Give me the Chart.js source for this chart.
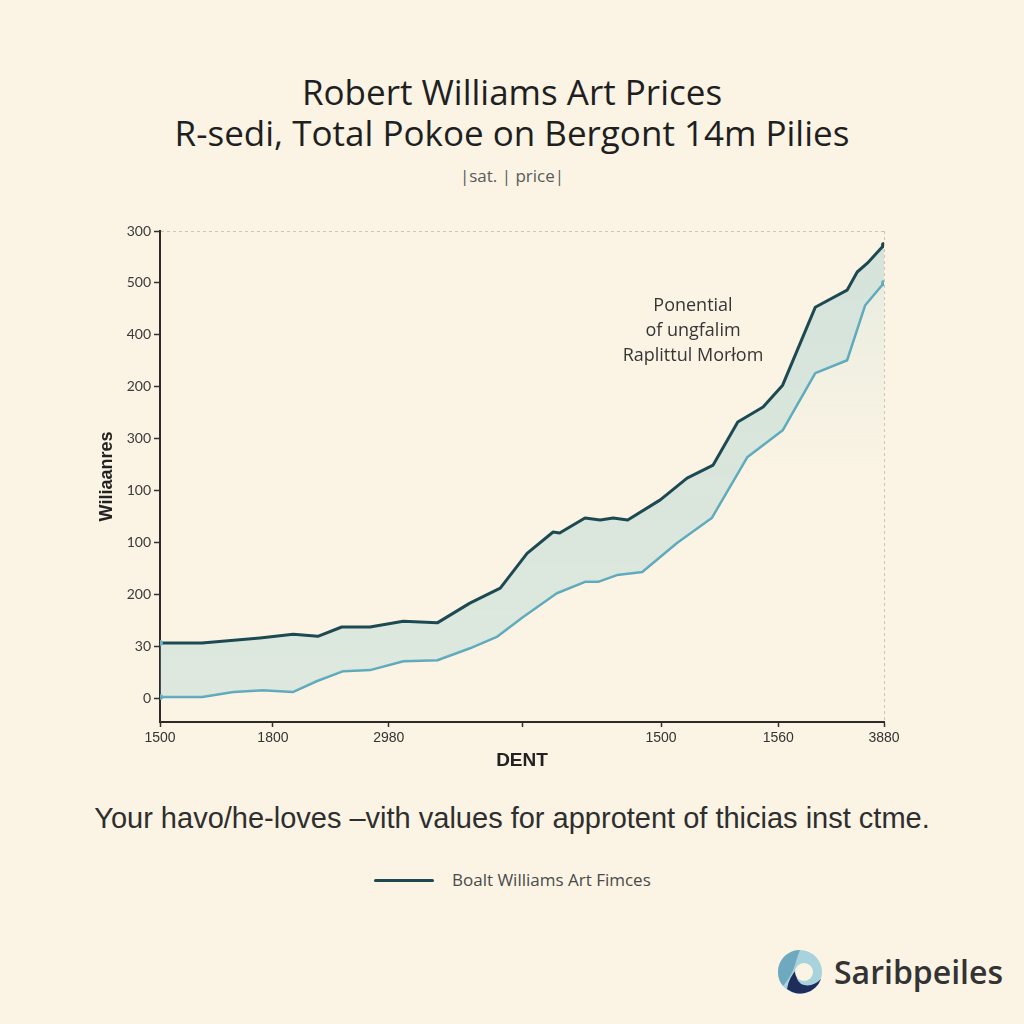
<!DOCTYPE html>
<html>
<head>
<meta charset="utf-8">
<script src="https://cdn.jsdelivr.net/npm/chart.js@4.4.0/dist/chart.umd.min.js"></script>
<style>
  body { margin: 0; background: #fbf4e4; }
  #page { position: relative; width: 1024px; height: 1024px; overflow: hidden; font-family: "Open Sans", sans-serif; color: #262626; }
  .title { position: absolute; left: 0; top: 71px; width: 1024px; text-align: center; font-size: 35px; line-height: 41px; color: #1f1f1f; }
  .subtitle { position: absolute; left: 0; top: 165px; width: 1024px; text-align: center; font-size: 17px; line-height: 22px; color: #5a5a5a; }
  #chartBox { position: absolute; left: 0; top: 200px; width: 1024px; height: 580px; }
  .note { position: absolute; left: 583px; top: 292px; width: 220px; text-align: center; font-size: 18px; line-height: 25px; color: #363636; }
  .caption { position: absolute; left: 0; top: 800px; width: 1024px; text-align: center; font-family: "Liberation Sans", sans-serif; font-size: 29px; line-height: 36px; color: #2e2e2e; }
  .legend-line { position: absolute; left: 374px; top: 879px; width: 60px; height: 3px; background: #1d4a52; border-radius: 2px; }
  .legend-text { position: absolute; left: 452px; top: 868px; font-size: 17px; line-height: 24px; color: #4a4a4a; }
  .logo { position: absolute; left: 777px; top: 949px; width: 46px; height: 46px; }
  .brand { position: absolute; left: 834px; top: 950px; font-size: 32px; line-height: 44px; font-weight: 600; color: #333; }
</style>
</head>
<body>
<div id="page">
  <div class="title">Robert Williams Art Prices<br>R-sedi, Total Pokoe on Bergont 14m Pilies</div>
  <div class="subtitle">|sat. | price|</div>
  <div id="chartBox"><canvas id="lineChart" width="1024" height="580"></canvas></div>
  <div class="note">Ponential<br>of ungfalim<br>Raplittul Morłom</div>
  <div class="caption">Your havo/he-loves –vith values for approtent of thicias inst ctme.</div>
  <div class="legend-line"></div>
  <div class="legend-text">Boalt Williams Art Fimces</div>
  <svg class="logo" viewBox="0 0 46 46">
    <circle cx="23" cy="23" r="22" fill="#a9d3dc"/>
    <path d="M23 1 A22 22 0 0 0 6 37 Q14 28 18 16 Q20 8 23 1 Z" fill="#6fa9c0"/>
    <path d="M10 40 A22 22 0 0 0 44 30 Q36 38 27 36 Q17 33 20 20 Q12 28 10 40 Z" fill="#1e2d5c"/>
    <circle cx="27" cy="23" r="9" fill="#fbf4e4"/>
  </svg>
  <div class="brand">Saribpeiles</div>
</div>

<script>
// y ticks are evenly spaced, labels as printed (bottom to top)
const yTickLabels = ["0", "30", "200", "100", "100", "300", "200", "400", "500", "300"];
// x ticks: positions along the axis and their printed labels
const xTickPos = [0, 15.6, 31.6, 50.1, 69.2, 85.4, 100];
const xTickLabels = ["1500", "1800", "2980", "", "1500", "1560", "3880"];

const darkX = [0, 5.8, 13.8, 18.4, 21.8, 25.1, 29.0, 33.6, 38.3, 42.8, 47.0, 50.7, 54.3, 55.2, 58.7, 60.8, 62.6, 64.6, 69.1, 72.8, 76.4, 79.8, 83.3, 86.0, 90.5, 94.9, 96.3, 97.7, 100];
const darkY = [1.06, 1.06, 1.16, 1.23, 1.19, 1.37, 1.37, 1.48, 1.45, 1.83, 2.12, 2.79, 3.20, 3.18, 3.47, 3.43, 3.47, 3.43, 3.82, 4.24, 4.49, 5.32, 5.61, 6.03, 7.53, 7.86, 8.21, 8.38, 8.73];

const lightX = [0, 5.8, 10.1, 14.2, 18.4, 21.7, 25.3, 29.0, 33.6, 38.3, 42.8, 46.5, 50.1, 54.8, 58.7, 60.5, 63.1, 66.6, 71.4, 76.2, 81.1, 86.0, 90.5, 94.9, 97.4, 100];
const lightY = [0.02, 0.02, 0.12, 0.15, 0.12, 0.33, 0.52, 0.54, 0.71, 0.73, 0.96, 1.18, 1.56, 2.02, 2.24, 2.24, 2.37, 2.43, 2.99, 3.47, 4.64, 5.16, 6.26, 6.51, 7.57, 8.00];

const darkColor = "#1d4a52";
const lightColor = "#5aa7bb";

function toPoints(xs, ys) {
  return xs.map((x, i) => ({ x: x, y: ys[i] }));
}

function endDots(ctx) {
  const last = ctx.dataset.data.length - 1;
  return ctx.dataIndex === 0 || ctx.dataIndex === last ? 3 : 0;
}

function bandFill(ctx) {
  const area = ctx.chart.chartArea;
  if (!area) return "rgba(140,200,205,0.25)";
  const g = ctx.chart.ctx.createLinearGradient(0, area.top, 0, area.bottom);
  g.addColorStop(0, "rgba(125,190,198,0.30)");
  g.addColorStop(1, "rgba(140,198,205,0.26)");
  return g;
}

function underFill(ctx) {
  const area = ctx.chart.chartArea;
  if (!area) return "rgba(0,0,0,0)";
  const g = ctx.chart.ctx.createLinearGradient(0, area.top, 0, area.bottom);
  g.addColorStop(0, "rgba(165,210,212,0.28)");
  g.addColorStop(0.5, "rgba(190,220,215,0.0)");
  g.addColorStop(1, "rgba(190,220,215,0.0)");
  return g;
}

new Chart(document.getElementById("lineChart"), {
  type: "line",
  data: {
    datasets: [
      {
        label: "Boalt Williams Art Fimces",
        data: toPoints(darkX, darkY),
        borderColor: darkColor,
        borderWidth: 3,
        backgroundColor: bandFill,
        fill: "+1",
        tension: 0,
        borderJoinStyle: "round",
        pointRadius: (ctx) => endDots(ctx),
        pointBackgroundColor: (ctx) => (ctx.dataIndex === 0 ? "#6fb0bf" : darkColor),
        pointBorderWidth: 0,
      },
      {
        label: "lower",
        data: toPoints(lightX, lightY),
        borderColor: lightColor,
        borderWidth: 2.5,
        backgroundColor: underFill,
        fill: "start",
        tension: 0,
        borderJoinStyle: "round",
        pointRadius: (ctx) => endDots(ctx),
        pointBackgroundColor: lightColor,
        pointBorderWidth: 0,
      },
    ],
  },
  options: {
    responsive: false,
    animation: false,
    layout: { padding: { left: 95, right: 140, top: 31, bottom: 0 } },
    plugins: {
      legend: { display: false },
      tooltip: { enabled: false },
    },
    scales: {
      x: {
        type: "linear",
        min: 0,
        max: 100,
        afterBuildTicks: (s) => {
          s.ticks = xTickPos.map((v) => ({ value: v }));
        },
        afterFit: (s) => {
          s.height = 58;
        },
        ticks: {
          autoSkip: false,
          maxRotation: 0,
          padding: 3,
          color: "#333",
          font: { family: "Liberation Sans", size: 14 },
          callback: (v, i) => xTickLabels[i],
        },
        grid: {
          color: (ctx) => (ctx.index === xTickPos.length - 1 ? "#cdc6b6" : "rgba(0,0,0,0)"),
          tickColor: "#333",
          tickLength: 5,
          tickWidth: 1.5,
        },
        border: { color: "#2e2a28", width: 2, dash: [3, 3] },
        title: {
          display: true,
          text: "DENT",
          color: "#222",
          font: { family: "Liberation Sans", size: 19, weight: "bold" },
          padding: { top: 0, bottom: 8 },
        },
      },
      y: {
        type: "linear",
        min: -0.46,
        max: 9,
        afterBuildTicks: (s) => {
          s.ticks = yTickLabels.map((t, i) => ({ value: i }));
        },
        afterFit: (s) => {
          s.width = 65;
        },
        ticks: {
          padding: 3,
          color: "#3a3a3a",
          font: { family: "Lato", size: 14 },
          callback: (v) => yTickLabels[v],
        },
        grid: {
          color: (ctx) => (ctx.tick && ctx.tick.value === 9 ? "#cdc6b6" : "rgba(0,0,0,0)"),
          tickColor: "#333",
          tickLength: 6,
          tickWidth: 1.5,
        },
        border: { color: "#2e2a28", width: 2, dash: [3, 3] },
        title: {
          display: true,
          text: "Wiliaanres",
          color: "#222",
          font: { family: "Liberation Sans", size: 18, weight: "bold" },
          padding: { top: 1, bottom: 0 },
        },
      },
    },
  },
});
</script>
</body>
</html>
